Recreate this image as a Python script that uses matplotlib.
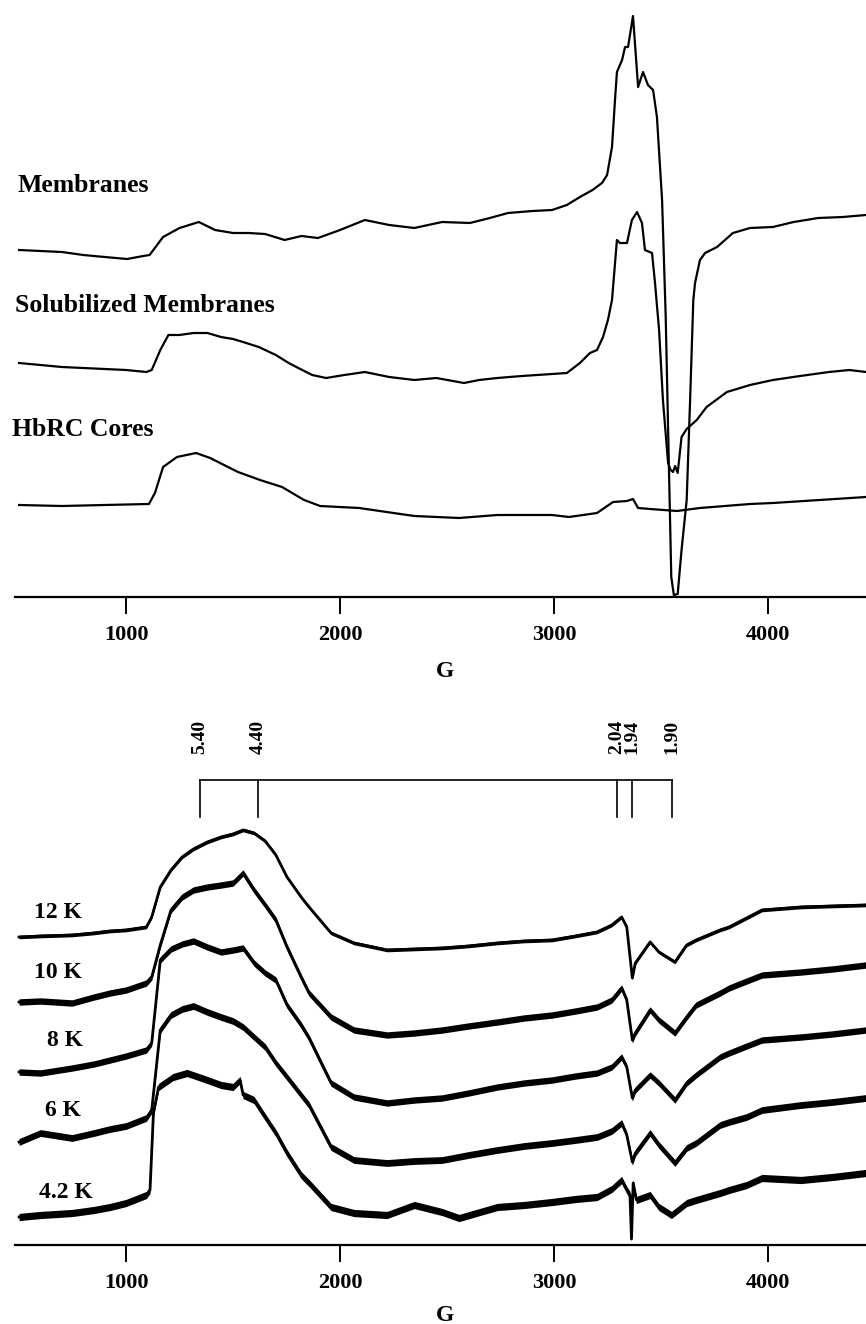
import matplotlib.pyplot as plt

plt.rcParams['font.family'] = ['Liberation Serif', 'DejaVu Serif']
plt.rcParams['font.weight'] = 'bold'

# ---------------- upper panel: membrane preparations ----------------
memb_field = [500, 600, 700, 800, 900, 1005, 1080, 1110, 1173, 1250, 1340, 1416,
              1500, 1573, 1650, 1741, 1820, 1897, 2000, 2116, 2230, 2347, 2477,
              2607, 2700, 2785, 2900, 2991, 3060, 3121, 3180, 3224, 3248, 3271,
              3285, 3294, 3318, 3332, 3346, 3369, 3393, 3416, 3439, 3463, 3481,
              3505, 3522, 3535, 3548, 3560, 3578, 3596, 3620, 3636, 3651, 3659,
              3682, 3706, 3762, 3836, 3916, 4023, 4120, 4234, 4350, 4458]
memb_signal = [347, 346, 345, 342, 340, 338, 341, 342, 360, 369, 375, 367,
               364, 364, 363, 357, 361, 359, 367, 377, 372, 369, 375,
               374, 379, 384, 386, 387, 392, 400, 407, 414, 422, 450,
               497, 525, 537, 550, 550, 581, 510, 525, 512, 507, 480,
               397, 280, 150, 20, 2, 3, 47, 97, 197, 297, 314,
               337, 344, 350, 364, 369, 370, 375, 379, 380, 382]

solub_field = [500, 600, 700, 800, 900, 1000, 1095, 1120, 1160, 1198, 1250, 1315,
               1380, 1444, 1500, 1547, 1620, 1700, 1760, 1805, 1870, 1935, 2020,
               2116, 2230, 2347, 2450, 2579, 2650, 2735, 2850, 2991, 3060, 3121,
               3168, 3201, 3229, 3252, 3271, 3294, 3308, 3341, 3364, 3388, 3411,
               3425, 3458, 3472, 3491, 3509, 3533, 3545, 3556, 3566, 3578, 3596,
               3620, 3667, 3713, 3808, 3916, 4023, 4150, 4285, 4380, 4458]
solub_signal = [234, 232, 230, 229, 228, 227, 225, 227, 247, 262, 262, 264,
                264, 260, 258, 255, 250, 242, 234, 229, 222, 219, 222,
                225, 220, 217, 219, 214, 217, 219, 221, 223, 224, 234,
                244, 247, 260, 277, 297, 357, 354, 354, 377, 385, 374,
                347, 344, 314, 267, 197, 134, 127, 125, 131, 124, 160,
                168, 177, 190, 205, 212, 217, 221, 225, 227, 225]

cores_field = [500, 700, 900, 1107, 1135, 1173, 1238, 1327, 1393, 1523, 1626,
               1729, 1832, 1907, 2089, 2347, 2556, 2735, 2991, 3070, 3201,
               3276, 3341, 3369, 3393, 3449, 3575, 3682, 3916, 4023, 4458]
cores_signal = [92, 91, 92, 93, 104, 130, 140, 144, 139, 125, 117,
                110, 97, 91, 89, 81, 79, 82, 82, 80, 84,
                95, 96, 98, 89, 88, 86, 89, 93, 94, 100]

top_labels = ['Membranes', 'Solubilized Membranes', 'HbRC Cores']
top_label_pos = [(495, 412), (481, 292), (467, 167)]

# ---------------- lower panel: temperature series ----------------
temp_field = [500, 600, 748, 850, 925, 1000, 1095, 1120, 1160, 1210, 1262, 1315,
              1380, 1444, 1500, 1547, 1598, 1650, 1700, 1752, 1818, 1855, 1958,
              2065, 2220, 2347, 2477, 2600, 2735, 2860, 2991, 3100, 3201, 3270,
              3316, 3340, 3366, 3380, 3449, 3490, 3565, 3620, 3664, 3776, 3818,
              3900, 3972, 4154, 4300, 4458]
k12_signal = [308, 309, 310, 312, 314, 315, 318, 328, 358, 375, 388, 396,
              403, 408, 411, 415, 412, 404, 390, 368, 348, 338, 312,
              302, 295, 296, 297, 299, 302, 304, 305, 309, 313, 320,
              328, 318, 267, 282, 303, 293, 283, 300, 305, 315, 318,
              327, 335, 338, 339, 340]
k10_signal = [243, 244, 242, 248, 252, 255, 262, 268, 300, 335, 348, 355,
              358, 360, 362, 372, 355, 340, 325, 298, 268, 252, 228,
              215, 210, 212, 215, 219, 223, 227, 230, 234, 238, 245,
              257, 245, 205, 212, 235, 225, 212, 228, 240, 252, 257,
              264, 270, 273, 276, 280]
k8_signal = [173, 172, 177, 181, 185, 189, 195, 202, 285, 296, 301, 304,
             298, 293, 295, 297, 282, 272, 265, 240, 220, 207, 162,
             148, 142, 145, 147, 152, 158, 162, 165, 169, 172, 178,
             188, 178, 147, 155, 170, 162, 145, 162, 170, 188, 192,
             199, 205, 208, 211, 215]
k6_signal = [103, 112, 107, 112, 116, 119, 127, 135, 215, 230, 236, 239,
             233, 228, 224, 218, 208, 198, 182, 168, 150, 140, 98,
             85, 82, 84, 85, 90, 95, 99, 102, 105, 108, 114,
             122, 110, 83, 92, 112, 100, 82, 97, 102, 120, 123,
             128, 135, 140, 143, 147]

k4_field = [500, 600, 748, 850, 925, 1000, 1095, 1112, 1128, 1152, 1220, 1285,
            1380, 1444, 1500, 1533, 1547, 1598, 1650, 1700, 1752, 1818, 1855,
            1958, 2065, 2220, 2347, 2477, 2556, 2735, 2860, 2991, 3100, 3201,
            3270, 3316, 3340, 3355, 3362, 3370, 3385, 3449, 3490, 3549, 3620,
            3664, 3776, 3818, 3900, 3972, 4154, 4300, 4458]
k4_signal = [28, 30, 32, 35, 38, 42, 50, 55, 132, 158, 168, 172,
             165, 160, 158, 165, 150, 145, 128, 112, 92, 70, 62,
             38, 32, 30, 40, 33, 27, 38, 40, 43, 46, 48,
             56, 65, 55, 50, 6, 62, 45, 50, 38, 30, 42,
             45, 52, 55, 60, 67, 65, 68, 72]

temp_labels = ['12 K', '10 K', '8 K', '6 K', '4.2 K']
temp_label_pos = [(682, 332), (682, 272), (715, 205), (706, 135), (720, 53)]
temp_series = [(temp_field, k12_signal, 1.8), (temp_field, k10_signal, 3.2),
               (temp_field, k8_signal, 3.2), (temp_field, k6_signal, 3.4),
               (k4_field, k4_signal, 3.6)]

# g-value markers above the lower traces
g_labels = ['5.40', '4.40', '2.04', '1.94', '1.90']
g_field = [1346, 1617, 3294, 3364, 3551]

fig = plt.figure(figsize=(8.66, 13.24), dpi=100)
W, H = 866, 1324
ax1 = fig.add_axes([15 / W, 1 - 597 / H, 1 - 15 / W, 597 / H])
ax2 = fig.add_axes([15 / W, 1 - 1245 / H, 1 - 15 / W, 545 / H])

for ax in (ax1, ax2):
    ax.set_xlim(481, 4458)
    for s in ('left', 'right', 'top'):
        ax.spines[s].set_visible(False)
    ax.spines['bottom'].set_linewidth(1.6)
    ax.set_yticks([])
    ax.set_xticks([1000, 2000, 3000, 4000])
    ax.tick_params(axis='x', direction='out', length=12, width=1.4,
                   pad=8, labelsize=16)
    ax.set_xlabel('G', fontsize=17, fontweight='bold')
    ax.patch.set_alpha(0)

ax1.set_ylim(0, 597)
ax2.set_ylim(0, 545)
ax1.xaxis.set_label_coords(0.505, -0.108)
ax2.xaxis.set_label_coords(0.505, -0.11)

ax1.plot(memb_field, memb_signal, color='black', lw=1.6)
ax1.plot(solub_field, solub_signal, color='black', lw=1.6)
ax1.plot(cores_field, cores_signal, color='black', lw=1.6)
for txt, (gx, gy) in zip(top_labels, top_label_pos):
    ax1.text(gx, gy, txt, fontsize=18.5, fontweight='bold', ha='left', va='center')

# noisy low-temperature traces: a centre line plus a band for the noise
for fld, sig, amp in temp_series:
    lo = [v - amp for v in sig]
    hi = [v + amp for v in sig]
    ax2.fill_between(fld, lo, hi, color='black', lw=0)
    ax2.plot(fld, sig, color='black', lw=2.0)
for txt, (gx, gy) in zip(temp_labels, temp_label_pos):
    ax2.text(gx, gy, txt, fontsize=17, fontweight='bold', ha='center', va='center')

bar_y = 465
ax2.plot([g_field[0], g_field[-1]], [bar_y, bar_y], color='black', lw=1.2,
         clip_on=False)
for gf, gl in zip(g_field, g_labels):
    ax2.plot([gf, gf], [bar_y, 428], color='black', lw=1.2, clip_on=False)
    ax2.text(gf, 508, gl, rotation=90, fontsize=14, fontweight='bold',
             ha='center', va='center')

fig.savefig('out.png', dpi=100)
